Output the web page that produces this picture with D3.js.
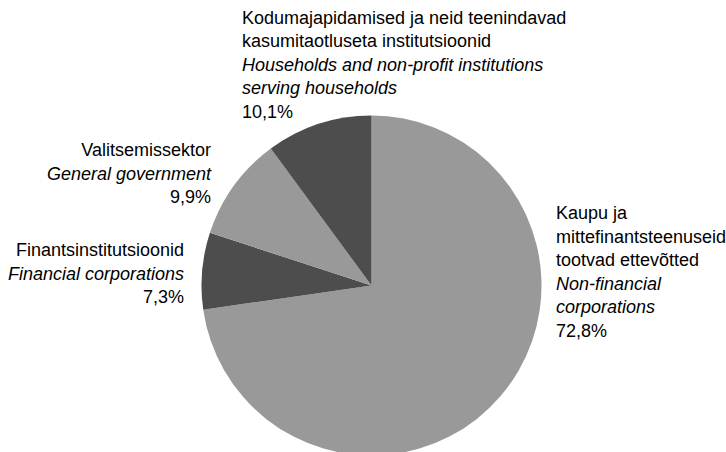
<!DOCTYPE html>
<html>
<head>
<meta charset="utf-8">
<script src="https://cdn.jsdelivr.net/npm/d3@7"></script>
<style>
  body { margin: 0; background: #fff; }
  text { font-family: "Liberation Sans", Arial, sans-serif; font-size: 18px; fill: #000; }
</style>
</head>
<body>
<svg id="chart" width="726" height="452"></svg>
<script>
// Sector shares, clockwise from 12 o'clock
var sectorsEt = [
  'Kaupu ja|mittefinantsteenuseid|tootvad ettevõtted',
  'Finantsinstitutsioonid',
  'Valitsemissektor',
  'Kodumajapidamised ja neid teenindavad|kasumitaotluseta institutsioonid'
];
var sectorsEn = [
  'Non-financial|corporations',
  'Financial corporations',
  'General government',
  'Households and non-profit institutions|serving households'
];
var shares = [72.8, 7.3, 9.9, 10.1];

// Layout
var cx = 371.5;
var cy = 285.5;
var radius = 170;
var lineHeight = 23.5;
var colors = ['#999999', '#4d4d4d', '#999999', '#4d4d4d'];

// label anchors: x, first baseline, alignment
var labelPos = [
  { x: 556, y: 219, anchor: 'start' },
  { x: 184, y: 256, anchor: 'end' },
  { x: 211, y: 156, anchor: 'end' },
  { x: 242, y: 23.5, anchor: 'start' }
];

var svg = d3.select('#chart');
var g = svg.append('g')
           .attr('transform', 'translate(' + cx + ',' + cy + ')');

var pie = d3.pie()
            .sort(null)
            .value(function (d) { return d; });
var arc = d3.arc()
            .innerRadius(0)
            .outerRadius(radius);

g.selectAll('.slice')
 .data(pie(shares))
 .enter()
 .append('path')
 .attr('class', 'slice')
 .attr('d', arc)
 .attr('fill', function (d, i) { return colors[i]; });

// Labels
var fmt = function (v) { return d3.format('.1f')(v).replace('.', ',') + '%'; };
shares.forEach(function (v, i) {
  var pos = labelPos[i];
  var lines = [];
  sectorsEt[i].split('|').forEach(function (t) { lines.push({ text: t, italic: false }); });
  sectorsEn[i].split('|').forEach(function (t) { lines.push({ text: t, italic: true }); });
  lines.push({ text: fmt(v), italic: false });
  var text = svg.append('text')
                .attr('text-anchor', pos.anchor);
  lines.forEach(function (l, k) {
    text.append('tspan')
        .attr('x', pos.x)
        .attr('y', pos.y + k * lineHeight)
        .style('font-style', l.italic ? 'italic' : 'normal')
        .text(l.text);
  });
});
</script>
</body>
</html>
